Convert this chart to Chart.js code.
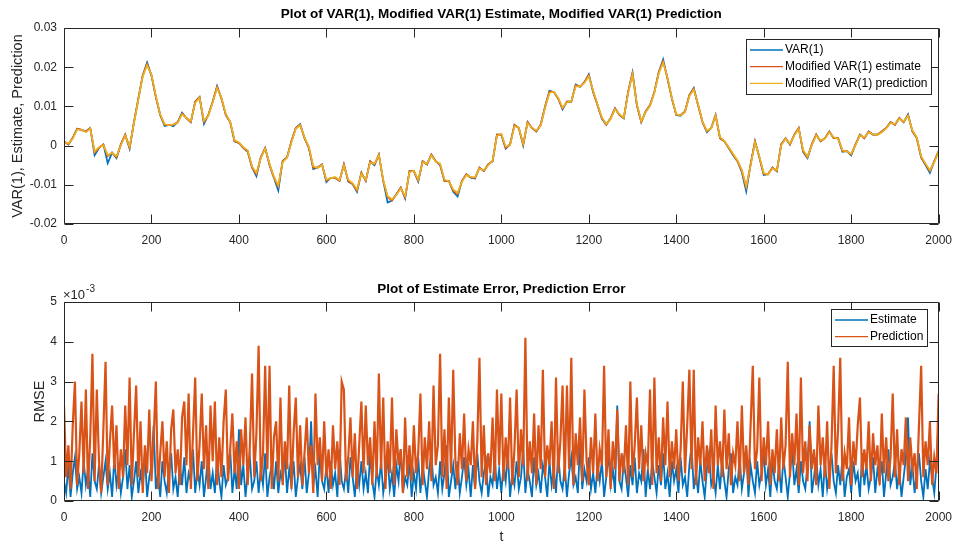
<!DOCTYPE html>
<html>
<head>
<meta charset="utf-8">
<script src="https://cdn.jsdelivr.net/npm/chart.js@4"></script>
<style>
  body { margin: 0; background: #fff; }
  #topChart { position: absolute; left: 0; top: 0; }
  #bottomChart { position: absolute; left: 0; top: 276px; }
</style>
</head>
<body>
<canvas id="topChart" width="961" height="250"></canvas>
<canvas id="bottomChart" width="961" height="270"></canvas>
<script>
// sample spacing (t) of the values below
const topStep = 10;
const errStep = 5;

const xTicks = [0, 200, 400, 600, 800, 1000, 1200, 1400, 1600, 1800, 2000];
const topYTicks = [-0.02, -0.01, 0, 0.01, 0.02, 0.03];
const errYTicks = [0, 1, 2, 3, 4, 5]; // x 10^-3

// top plot, one value every 10 t
const var1Values = [
  0.0011, 0.0003, 0.0020, 0.0043, 0.0040, 0.0036, 0.0045, -0.0025, -0.0006, 0.0003,
  -0.0045, -0.0018, -0.0032, 0.0003, 0.0028, -0.0008, 0.0060, 0.0120, 0.0179, 0.0212,
  0.0179, 0.0124, 0.0078, 0.0050, 0.0053, 0.0049, 0.0060, 0.0084, 0.0070, 0.0060,
  0.0112, 0.0124, 0.0055, 0.0078, 0.0112, 0.0152, 0.0120, 0.0078, 0.0060, 0.0011,
  0.0007, -0.0006, -0.0016, -0.0056, -0.0078, -0.0030, -0.0006, -0.0050, -0.0082, -0.0115,
  -0.0039, -0.0030, 0.0011, 0.0045, 0.0055, 0.0019, -0.0006, -0.0060, -0.0056, -0.0048,
  -0.0093, -0.0082, -0.0082, -0.0090, -0.0048, -0.0092, -0.0098, -0.0118, -0.0069, -0.0090,
  -0.0040, -0.0050, -0.0023, -0.0090, -0.0145, -0.0140, -0.0124, -0.0107, -0.0135, -0.0065,
  -0.0065, -0.0092, -0.0040, -0.0048, -0.0023, -0.0040, -0.0050, -0.0090, -0.0090, -0.0118,
  -0.0130, -0.0090, -0.0073, -0.0082, -0.0084, -0.0056, -0.0065, -0.0048, -0.0040, 0.0028,
  0.0028, -0.0008, 0.0003, 0.0053, 0.0045, 0.0000, 0.0060, 0.0045, 0.0036, 0.0053,
  0.0099, 0.0140, 0.0137, 0.0120, 0.0092, 0.0112, 0.0112, 0.0156, 0.0150, 0.0162,
  0.0182, 0.0137, 0.0103, 0.0068, 0.0053, 0.0070, 0.0095, 0.0078, 0.0070, 0.0137,
  0.0187, 0.0103, 0.0060, 0.0087, 0.0103, 0.0137, 0.0187, 0.0220, 0.0171, 0.0120,
  0.0078, 0.0076, 0.0087, 0.0129, 0.0147, 0.0103, 0.0060, 0.0034, 0.0045, 0.0078,
  0.0019, 0.0011, -0.0006, -0.0025, -0.0040, -0.0068, -0.0117, -0.0048, 0.0011, -0.0030,
  -0.0075, -0.0073, -0.0056, -0.0065, 0.0003, 0.0019, 0.0003, 0.0028, 0.0045, -0.0016,
  -0.0032, 0.0003, 0.0028, 0.0011, 0.0019, 0.0036, 0.0019, 0.0019, -0.0016, -0.0014,
  -0.0025, 0.0003, 0.0028, 0.0019, 0.0036, 0.0028, 0.0028, 0.0036, 0.0045, 0.0060,
  0.0053, 0.0070, 0.0060, 0.0080, 0.0036, 0.0019, -0.0030, -0.0050, -0.0070, -0.0040,
  -0.0014
];
const estimateValues = [
  0.0011, 0.0003, 0.0020, 0.0043, 0.0040, 0.0036, 0.0045, -0.0018, -0.0006, 0.0003,
  -0.0027, -0.0018, -0.0030, 0.0003, 0.0028, -0.0006, 0.0060, 0.0120, 0.0179, 0.0208,
  0.0179, 0.0124, 0.0078, 0.0053, 0.0053, 0.0053, 0.0060, 0.0082, 0.0070, 0.0060,
  0.0112, 0.0124, 0.0060, 0.0078, 0.0112, 0.0150, 0.0120, 0.0078, 0.0060, 0.0011,
  0.0007, -0.0006, -0.0014, -0.0056, -0.0073, -0.0030, -0.0006, -0.0048, -0.0082, -0.0105,
  -0.0039, -0.0030, 0.0011, 0.0045, 0.0053, 0.0019, -0.0006, -0.0056, -0.0056, -0.0048,
  -0.0090, -0.0082, -0.0082, -0.0090, -0.0048, -0.0090, -0.0098, -0.0115, -0.0069, -0.0090,
  -0.0040, -0.0048, -0.0023, -0.0090, -0.0132, -0.0140, -0.0124, -0.0107, -0.0132, -0.0065,
  -0.0065, -0.0090, -0.0040, -0.0048, -0.0023, -0.0040, -0.0048, -0.0090, -0.0090, -0.0115,
  -0.0124, -0.0090, -0.0073, -0.0082, -0.0082, -0.0056, -0.0065, -0.0048, -0.0040, 0.0028,
  0.0028, -0.0006, 0.0003, 0.0053, 0.0045, 0.0003, 0.0060, 0.0045, 0.0036, 0.0053,
  0.0099, 0.0137, 0.0137, 0.0120, 0.0095, 0.0112, 0.0112, 0.0154, 0.0150, 0.0162,
  0.0180, 0.0137, 0.0103, 0.0070, 0.0053, 0.0070, 0.0095, 0.0078, 0.0070, 0.0137,
  0.0185, 0.0103, 0.0060, 0.0087, 0.0103, 0.0137, 0.0187, 0.0215, 0.0171, 0.0120,
  0.0078, 0.0078, 0.0087, 0.0129, 0.0145, 0.0103, 0.0060, 0.0036, 0.0045, 0.0078,
  0.0019, 0.0011, -0.0006, -0.0023, -0.0040, -0.0065, -0.0107, -0.0048, 0.0011, -0.0030,
  -0.0073, -0.0073, -0.0056, -0.0065, 0.0003, 0.0019, 0.0003, 0.0028, 0.0045, -0.0014,
  -0.0030, 0.0003, 0.0028, 0.0011, 0.0019, 0.0036, 0.0019, 0.0019, -0.0014, -0.0014,
  -0.0023, 0.0003, 0.0028, 0.0019, 0.0036, 0.0028, 0.0028, 0.0036, 0.0045, 0.0060,
  0.0053, 0.0070, 0.0060, 0.0078, 0.0036, 0.0019, -0.0030, -0.0048, -0.0065, -0.0040,
  -0.0014
];
const predictionValues = [
  0.0010, 0.0005, 0.0018, 0.0041, 0.0041, 0.0034, 0.0044, -0.0015, -0.0004, 0.0001,
  -0.0024, -0.0019, -0.0027, 0.0001, 0.0026, -0.0003, 0.0057, 0.0117, 0.0176, 0.0205,
  0.0181, 0.0127, 0.0080, 0.0055, 0.0052, 0.0054, 0.0058, 0.0080, 0.0071, 0.0062,
  0.0109, 0.0122, 0.0063, 0.0076, 0.0110, 0.0147, 0.0122, 0.0081, 0.0061, 0.0014,
  0.0008, -0.0004, -0.0012, -0.0053, -0.0070, -0.0032, -0.0008, -0.0046, -0.0079, -0.0102,
  -0.0042, -0.0031, 0.0008, 0.0043, 0.0052, 0.0021, -0.0003, -0.0053, -0.0057, -0.0049,
  -0.0087, -0.0083, -0.0080, -0.0088, -0.0051, -0.0087, -0.0096, -0.0112, -0.0072, -0.0088,
  -0.0043, -0.0046, -0.0025, -0.0087, -0.0129, -0.0137, -0.0126, -0.0109, -0.0129, -0.0068,
  -0.0064, -0.0087, -0.0042, -0.0046, -0.0025, -0.0041, -0.0046, -0.0087, -0.0091, -0.0112,
  -0.0121, -0.0092, -0.0075, -0.0080, -0.0081, -0.0058, -0.0063, -0.0050, -0.0038, 0.0025,
  0.0030, -0.0003, 0.0001, 0.0050, 0.0046, 0.0005, 0.0057, 0.0046, 0.0038, 0.0051,
  0.0096, 0.0134, 0.0138, 0.0122, 0.0097, 0.0110, 0.0113, 0.0151, 0.0151, 0.0160,
  0.0177, 0.0140, 0.0105, 0.0072, 0.0055, 0.0068, 0.0093, 0.0080, 0.0071, 0.0134,
  0.0182, 0.0106, 0.0062, 0.0085, 0.0101, 0.0135, 0.0184, 0.0212, 0.0174, 0.0122,
  0.0080, 0.0077, 0.0085, 0.0126, 0.0143, 0.0105, 0.0062, 0.0038, 0.0044, 0.0076,
  0.0022, 0.0012, -0.0004, -0.0021, -0.0038, -0.0062, -0.0104, -0.0051, 0.0008, -0.0027,
  -0.0070, -0.0074, -0.0058, -0.0063, 0.0001, 0.0018, 0.0005, 0.0026, 0.0043, -0.0011,
  -0.0028, 0.0001, 0.0026, 0.0013, 0.0018, 0.0034, 0.0021, 0.0018, -0.0012, -0.0015,
  -0.0021, 0.0001, 0.0026, 0.0021, 0.0034, 0.0029, 0.0027, 0.0034, 0.0044, 0.0058,
  0.0055, 0.0068, 0.0062, 0.0076, 0.0039, 0.0021, -0.0027, -0.0046, -0.0063, -0.0042,
  -0.0016
];

// bottom plot, one value every 5 t, in units of 1e-3
const estimateErr = [
  0.5,0.2,0.9,0.1,0.7,1.1,0.3,0.6,0.2,1.0,0.4,0.8,0.1,1.2,0.5,0.3,0.9,0.2,0.6,1.0,
  0.3,0.7,0.1,1.1,0.4,0.8,0.2,0.6,1.3,0.3,0.9,0.1,0.5,1.0,0.2,0.7,0.4,1.2,0.1,0.6,
  0.9,1.9,0.3,0.7,0.1,1.0,0.5,0.2,0.8,1.2,0.3,0.6,0.1,0.9,0.4,1.1,0.2,0.7,0.5,1.3,
  0.2,0.8,0.4,1.0,0.1,0.6,1.2,0.3,0.7,0.2,1.1,0.5,0.1,0.9,0.4,0.6,1.3,0.2,0.8,0.3,
  1.8,0.4,0.9,0.1,0.7,1.1,0.3,0.5,1.0,0.2,0.8,0.4,1.2,0.1,0.6,0.9,0.3,1.0,0.2,0.7,
  0.5,1.2,0.2,0.8,0.4,1.0,0.1,0.6,0.9,0.3,1.1,0.2,0.7,2.0,0.4,0.8,0.1,1.2,0.5,0.3,
  0.9,0.2,1.0,0.4,0.7,0.1,1.3,0.5,0.3,0.8,0.2,1.1,0.6,0.1,0.9,0.4,1.0,0.3,0.7,0.2,
  1.2,0.5,0.1,0.8,0.4,1.0,0.2,0.6,1.1,0.3,0.7,0.1,0.9,0.5,1.3,0.2,0.6,0.4,1.0,0.1,
  0.7,0.3,1.1,0.2,0.9,0.5,0.1,0.8,1.2,0.4,0.6,0.2,1.0,0.3,0.7,1.4,0.1,0.5,0.9,0.3,
  1.0,0.2,0.6,1.1,0.4,0.8,0.1,0.9,0.3,1.2,0.5,0.2,0.7,1.0,0.1,0.6,0.4,1.1,0.3,0.8,
  0.2,0.9,0.5,1.2,0.1,0.7,0.4,1.0,0.3,0.6,1.3,0.2,0.8,0.5,0.1,1.1,0.4,0.7,0.2,0.9,
  0.6,0.1,1.0,0.4,0.8,0.2,1.2,0.5,0.3,0.9,0.1,0.7,1.1,0.4,0.6,0.2,1.5,0.3,0.8,0.5,
  1.1,0.3,0.7,0.2,0.9,0.5,1.0,0.1,0.6,1.2,0.4,0.8,0.2,2.4,0.5,0.3,1.0,0.6,0.1,0.9,
  0.4,1.1,0.2,0.7,0.5,1.3,0.1,0.8,0.3,1.0,0.6,0.2,0.9,0.4,1.2,0.3,0.7,0.1,1.0,0.5,
  0.8,0.2,1.1,0.4,0.6,0.1,0.9,1.4,0.3,0.7,0.2,1.0,0.5,0.1,0.8,1.2,0.4,0.6,0.2,0.9,
  0.3,1.0,0.5,0.1,0.8,1.2,0.2,0.6,0.4,1.1,0.3,0.7,1.3,0.1,0.9,0.5,0.2,1.0,0.4,0.7,
  1.2,0.4,0.8,0.1,1.0,0.5,0.3,0.9,0.2,1.1,0.6,0.1,0.7,1.3,0.4,0.8,0.2,1.0,0.5,0.3,
  0.9,2.0,0.2,0.6,1.1,0.4,0.8,0.1,1.0,0.3,0.7,1.2,0.5,0.2,0.9,0.4,1.1,0.1,0.6,0.8,
  0.2,1.0,0.5,0.7,0.1,1.2,0.4,0.9,0.3,0.6,1.1,0.2,0.8,0.5,1.0,0.1,0.7,1.3,0.4,0.6,
  1.0,0.3,0.8,0.1,0.6,1.1,2.1,0.4,0.9,0.2,0.7,1.2,0.5,0.1,0.8,0.3,1.0,0.6,0.2,0.9,
  2.1
];
const predictionErr = [
  2.4,0.6,1.4,0.3,1.9,3.0,0.4,1.2,2.5,0.7,2.8,0.3,1.6,3.7,0.5,2.8,1.0,0.2,1.8,3.5,
  0.4,1.5,2.4,0.8,1.9,0.3,1.3,0.6,2.4,0.9,3.1,0.4,1.7,2.9,0.6,2.0,0.2,1.4,0.7,2.3,
  0.5,1.6,3.0,0.3,1.2,2.0,0.6,1.5,0.2,1.8,2.3,0.7,1.3,0.4,2.1,2.5,0.9,2.7,0.3,1.7,
  3.1,0.5,1.4,2.7,0.8,1.9,0.3,2.4,1.0,2.5,0.4,1.6,0.6,2.0,2.8,0.5,1.3,2.2,0.7,1.5,
  0.3,1.8,0.9,2.1,0.4,1.4,3.2,0.6,1.7,3.9,0.5,1.2,3.4,0.8,3.4,0.3,1.6,2.0,0.5,2.6,
  0.4,1.5,0.8,2.9,0.3,1.7,2.6,0.6,1.9,0.4,1.2,2.1,0.7,1.4,0.2,2.7,0.9,1.6,0.5,2.0,
  0.6,1.3,0.3,1.9,0.8,1.5,0.4,3.0,2.8,0.5,1.1,2.1,0.6,1.7,0.3,1.4,2.5,0.7,2.4,0.9,
  1.6,0.4,2.0,0.6,3.2,0.8,2.6,0.3,1.5,0.7,2.6,0.4,1.8,0.9,1.3,0.2,2.1,0.6,1.4,0.5,
  1.9,0.7,1.2,2.7,0.4,1.6,0.8,2.0,0.5,2.9,0.9,1.4,3.7,0.6,1.8,0.3,2.6,0.7,3.3,1.0,
  0.4,1.7,0.8,2.2,0.5,1.3,0.9,2.0,0.3,1.5,3.6,0.6,1.9,0.4,1.2,0.7,2.1,0.5,2.8,0.9,
  2.7,0.5,1.6,0.8,2.6,0.4,1.3,2.8,0.6,1.8,0.9,4.1,0.5,1.5,0.7,2.2,0.4,1.9,0.8,3.3,
  0.6,1.4,0.9,2.0,0.3,3.1,0.7,1.5,2.9,0.5,2.9,0.8,3.6,0.4,1.7,0.9,2.1,0.5,2.8,1.0,
  0.4,1.6,0.7,2.2,0.5,1.3,0.9,3.4,0.6,1.8,0.3,1.5,0.8,2.3,0.5,1.2,0.7,1.9,0.4,3.0,
  0.6,1.4,2.6,0.8,1.9,0.5,1.2,0.9,2.8,0.4,3.1,0.7,1.6,0.5,2.1,0.9,2.5,0.6,1.5,0.8,
  1.8,0.5,1.3,3.0,0.7,1.9,3.3,0.8,3.3,0.4,1.6,0.9,2.0,0.5,1.4,0.7,1.8,0.3,2.4,0.9,
  1.5,0.6,2.3,0.8,1.7,0.4,1.2,0.9,2.0,0.5,2.4,0.7,1.4,0.4,1.9,3.4,0.8,1.3,3.1,0.5,
  1.6,0.9,2.0,0.4,1.3,0.7,1.8,0.5,2.1,0.8,1.4,3.5,0.6,1.7,0.9,2.2,0.4,3.1,0.7,1.5,
  0.5,1.9,0.8,1.3,0.4,2.4,0.9,1.6,0.6,2.0,0.3,1.4,3.4,0.7,1.8,3.6,0.5,1.2,0.8,2.1,
  0.4,1.5,0.9,1.9,2.6,0.6,1.3,0.8,2.0,0.5,1.7,0.9,1.4,0.4,2.2,0.7,1.6,0.5,1.1,2.7,
  0.6,1.8,0.4,1.3,0.9,2.1,0.5,1.6,0.8,1.2,0.3,1.9,3.4,0.6,1.5,0.9,2.0,0.4,1.1,0.7,
  2.7
];

const blue = '#0072BD';
const orange = '#D95319';
const yellow = '#EDB120';
const axisColor = '#262626';
const fontFamily = "'Liberation Sans', Arial, Helvetica, sans-serif";

function toPoints(values, step) {
  return values.map((v, i) => ({ x: i * step, y: v }));
}

// MATLAB style box with inward ticks on all four sides
const matlabAxes = {
  id: 'matlabAxes',
  afterDatasetsDraw(chart, args, opts) {
    const { ctx, chartArea: a, scales } = chart;
    const len = opts.tickLength || 9;
    const L = Math.round(a.left) + 0.5, R = Math.round(a.right) - 0.5;
    const T = Math.round(a.top) + 0.5, B = Math.round(a.bottom) - 0.5;
    ctx.save();
    ctx.strokeStyle = axisColor;
    ctx.lineWidth = 1;
    ctx.beginPath();
    ctx.rect(L, T, R - L, B - T);
    scales.x.ticks.forEach(t => {
      const px = Math.round(scales.x.getPixelForValue(t.value)) + 0.5;
      ctx.moveTo(px, B); ctx.lineTo(px, B - len);
      ctx.moveTo(px, T); ctx.lineTo(px, T + len);
    });
    scales.y.ticks.forEach(t => {
      const py = Math.round(scales.y.getPixelForValue(t.value)) + 0.5;
      ctx.moveTo(L, py); ctx.lineTo(L + len, py);
      ctx.moveTo(R, py); ctx.lineTo(R - len, py);
    });
    ctx.stroke();
    ctx.restore();
  }
};

// legend box inside the axes, top right
const boxLegend = {
  id: 'boxLegend',
  afterDraw(chart, args, opts) {
    const { ctx } = chart;
    ctx.save();
    ctx.fillStyle = '#fff';
    ctx.fillRect(opts.x, opts.y, opts.w, opts.h);
    ctx.strokeStyle = axisColor;
    ctx.lineWidth = 1;
    ctx.strokeRect(opts.x + 0.5, opts.y + 0.5, opts.w, opts.h);
    ctx.font = '12px ' + fontFamily;
    ctx.textBaseline = 'middle';
    chart.data.datasets.forEach((ds, i) => {
      const y = opts.y + opts.firstRow + i * opts.rowGap;
      ctx.strokeStyle = ds.borderColor;
      ctx.lineWidth = 1.3;
      ctx.beginPath();
      ctx.moveTo(opts.x + 4, y);
      ctx.lineTo(opts.x + 37, y);
      ctx.stroke();
      ctx.fillStyle = '#000';
      ctx.fillText(ds.label, opts.x + 39, y);
    });
    ctx.restore();
  }
};

// "x10^-3" multiplier above the y axis
const expLabel = {
  id: 'expLabel',
  afterDraw(chart, args, opts) {
    if (!opts.base) return;
    const { ctx, chartArea: a } = chart;
    ctx.save();
    ctx.fillStyle = axisColor;
    ctx.textBaseline = 'alphabetic';
    ctx.font = '13px ' + fontFamily;
    ctx.fillText(opts.base, a.left - 1, a.top - 3);
    const w = ctx.measureText(opts.base).width;
    ctx.font = '10px ' + fontFamily;
    ctx.fillText(opts.exp, a.left + w, a.top - 10);
    ctx.restore();
  }
};

function xScale(height, titleText) {
  return {
    type: 'linear', min: 0, max: 2000,
    afterBuildTicks: s => { s.ticks = xTicks.map(v => ({ value: v })); },
    afterFit: s => { s.height = height; },
    grid: { display: false, drawTicks: false },
    border: { display: false },
    ticks: { color: axisColor, font: { family: fontFamily, size: 12 }, padding: 9, maxRotation: 0,
      callback: v => String(v) },
    title: titleText ? { display: true, text: titleText, color: axisColor,
      font: { family: fontFamily, size: 14 }, padding: { top: 0, bottom: 0 } } : { display: false }
  };
}

function yScale(min, max, tickVals, fmt, titleText, titlePad) {
  return {
    type: 'linear', min: min, max: max,
    afterBuildTicks: s => { s.ticks = tickVals.map(v => ({ value: v })); },
    afterFit: s => { s.width = 64; },
    grid: { display: false, drawTicks: false },
    border: { display: false },
    ticks: { color: axisColor, font: { family: fontFamily, size: 12 }, padding: 7, callback: fmt },
    title: { display: true, text: titleText, color: axisColor,
      font: { family: fontFamily, size: 14.5 }, padding: { top: titlePad, bottom: 0 } }
  };
}

function titleOpts(text, padTop, padBottom) {
  return { display: true, text: text, color: '#000', fullSize: false,
    font: { family: fontFamily, size: 13.5, weight: 'bold' }, padding: { top: padTop, bottom: padBottom } };
}

const lineDefaults = { pointRadius: 0, borderWidth: 1.7, tension: 0, fill: false };

new Chart(document.getElementById('topChart'), {
  type: 'line',
  data: {
    datasets: [
      { ...lineDefaults, label: 'VAR(1)', data: toPoints(var1Values, topStep), borderColor: blue, order: 3 },
      { ...lineDefaults, label: 'Modified VAR(1) estimate', data: toPoints(estimateValues, topStep), borderColor: orange, order: 2 },
      { ...lineDefaults, label: 'Modified VAR(1) prediction', data: toPoints(predictionValues, topStep), borderColor: yellow, order: 1 }
    ]
  },
  options: {
    responsive: false, animation: false, parsing: false,
    layout: { padding: { left: 0, right: 19, top: 0, bottom: 0 } },
    scales: {
      x: xScale(26, null),
      y: yScale(-0.02, 0.03, topYTicks, v => v === 0 ? '0' : v.toFixed(2), 'VAR(1), Estimate, Prediction', 9)
    },
    plugins: {
      legend: { display: false },
      tooltip: { enabled: false },
      title: titleOpts('Plot of VAR(1), Modified VAR(1) Estimate, Modified VAR(1) Prediction', 6, 5.8),
      matlabAxes: { tickLength: 9 },
      boxLegend: { x: 746, y: 39, w: 185, h: 55, firstRow: 11, rowGap: 16.7 }
    }
  },
  plugins: [matlabAxes, boxLegend]
});

new Chart(document.getElementById('bottomChart'), {
  type: 'line',
  data: {
    datasets: [
      { ...lineDefaults, borderWidth: 1.8, label: 'Estimate', data: toPoints(estimateErr, errStep), borderColor: blue, order: 2 },
      { ...lineDefaults, borderWidth: 2.2, label: 'Prediction', data: toPoints(predictionErr, errStep), borderColor: orange, order: 1 }
    ]
  },
  options: {
    responsive: false, animation: false, parsing: false,
    layout: { padding: { left: 0, right: 19, top: 0, bottom: 0 } },
    scales: {
      x: xScale(45, 't'),
      y: yScale(0, 5, errYTicks, v => String(v), 'RMSE', 31)
    },
    plugins: {
      legend: { display: false },
      tooltip: { enabled: false },
      title: titleOpts('Plot of Estimate Error, Prediction Error', 5, 4.8),
      matlabAxes: { tickLength: 9 },
      boxLegend: { x: 831, y: 33, w: 96, h: 37, firstRow: 11, rowGap: 16.7 },
      expLabel: { base: '\u00d710', exp: '-3' }
    }
  },
  plugins: [matlabAxes, boxLegend, expLabel]
});
</script>
</body>
</html>
